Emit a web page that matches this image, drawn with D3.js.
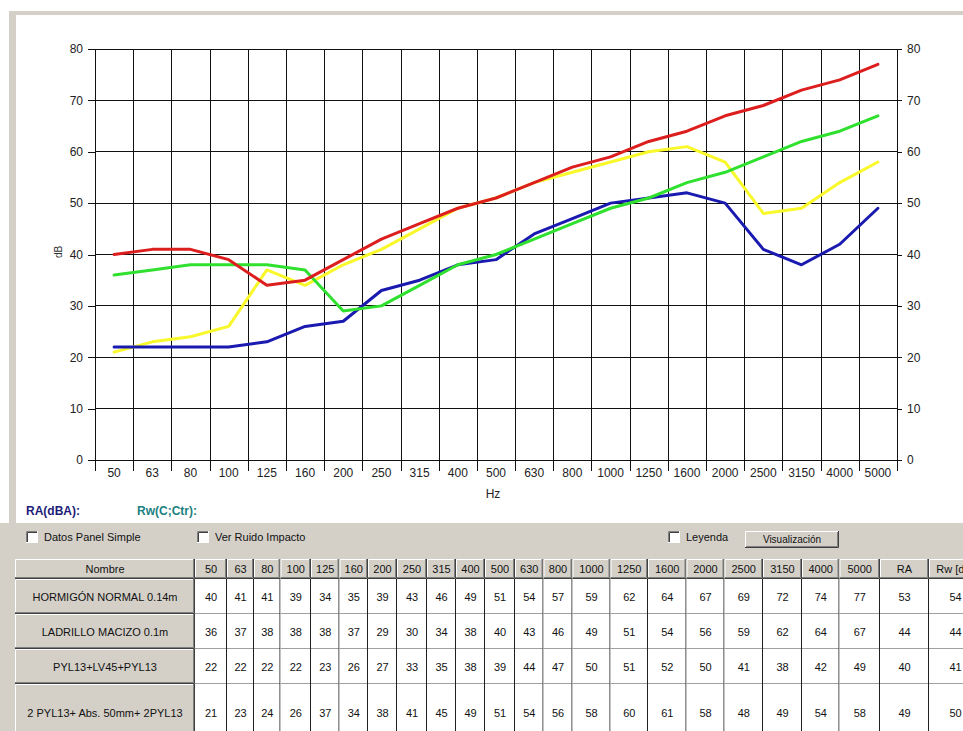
<!DOCTYPE html>
<html>
<head>
<meta charset="utf-8">
<script src="https://cdn.jsdelivr.net/npm/d3@7"></script>
<style>
  html, body { margin: 0; padding: 0; background: #ffffff; overflow: hidden; }
  svg { display: block; font-family: "Liberation Sans", Arial, sans-serif; }
</style>
</head>
<body>
<svg id="chart" width="963" height="731"></svg>
<script>
// Third-octave bands (Hz)
const freqs = ["50","63","80","100","125","160","200","250","315","400","500",
               "630","800","1000","1250","1600","2000","2500","3150","4000","5000"];

// Sound reduction index per band (dB)
const hormigon = [40,41,41,39,34,35,39,43,46,49,51,54,57,59,62,64,67,69,72,74,77];
const ladrillo = [36,37,38,38,38,37,29,30,34,38,40,43,46,49,51,54,56,59,62,64,67];
const pyl      = [22,22,22,22,23,26,27,33,35,38,39,44,47,50,51,52,50,41,38,42,49];
const dosPyl   = [21,23,24,26,37,34,38,41,45,49,51,54,56,58,60,61,58,48,49,54,58];

const names = ["HORMIGÓN NORMAL 0.14m", "LADRILLO MACIZO 0.1m",
               "PYL13+LV45+PYL13", "2 PYL13+ Abs. 50mm+ 2PYL13"];
const raValues = [53, 44, 40, 49];
const rwValues = [54, 44, 41, 50];
const seriesValues = [hormigon, ladrillo, pyl, dosPyl];
const seriesColors = ["#dc1e1e", "#2fe02f", "#1a1ab0", "#f8f82a"];

const yTicks = [0,10,20,30,40,50,60,70,80];

const svg = d3.select("#chart");
const GRAY = "#d4d0c8";
const FONT = "'Liberation Sans', Arial, sans-serif";

// ---- window frame ----
svg.append("rect").attr("x", 9).attr("y", 11).attr("width", 954).attr("height", 4).attr("fill", GRAY);
svg.append("rect").attr("x", 9).attr("y", 11).attr("width", 7).attr("height", 720).attr("fill", GRAY);
svg.append("rect").attr("x", 0).attr("y", 523).attr("width", 963).attr("height", 208).attr("fill", GRAY);

// ---- chart ----
const x = d3.scaleBand().domain(freqs).range([95, 897]).padding(0);
const y = d3.scaleLinear().domain([0, 80]).range([460, 49]);
const xc = f => x(f) + x.bandwidth() / 2;

const g = svg.append("g");

// horizontal grid
g.selectAll("line.hgrid").data(yTicks).join("line")
  .attr("x1", x.range()[0]).attr("x2", x.range()[1])
  .attr("y1", d => y(d)).attr("y2", d => y(d))
  .attr("stroke", "#111").attr("stroke-width", 1).attr("shape-rendering", "crispEdges");

// vertical grid at band boundaries, extending below the axis as ticks
const bounds = d3.range(freqs.length + 1).map(i => x.range()[0] + i * x.step());
g.selectAll("line.vgrid").data(bounds).join("line")
  .attr("x1", d => Math.round(d) + 0.5).attr("x2", d => Math.round(d) + 0.5)
  .attr("y1", y(80)).attr("y2", y(0) + 11)
  .attr("stroke", "#111").attr("stroke-width", 1).attr("shape-rendering", "crispEdges");

// left axis
const left = svg.append("g").attr("transform", `translate(${x.range()[0]},0)`)
  .call(d3.axisLeft(y).tickValues(yTicks).tickSize(7).tickPadding(5));
// right axis
const right = svg.append("g").attr("transform", `translate(${x.range()[1]},0)`)
  .call(d3.axisRight(y).tickValues(yTicks).tickSize(5).tickPadding(5));
[left, right].forEach(a => {
  a.select(".domain").remove();
  a.selectAll(".tick line").attr("stroke", "#111").attr("shape-rendering", "crispEdges");
  a.selectAll(".tick text").attr("fill", "#222").style("font-size", "12px").style("font-family", FONT);
});

// bottom axis labels, centred in each band
const bottom = svg.append("g").attr("transform", `translate(0,${y(0)})`)
  .call(d3.axisBottom(x).tickSize(0).tickPadding(8));
bottom.select(".domain").remove();
bottom.selectAll(".tick text").attr("fill", "#222").style("font-size", "12px").style("font-family", FONT);

// axis titles
svg.append("text").attr("x", 493).attr("y", 498).attr("text-anchor", "middle")
  .style("font-size", "12px").attr("fill", "#222").text("Hz");
svg.append("text").attr("transform", "translate(62,252) rotate(-90)").attr("text-anchor", "middle")
  .style("font-size", "10px").attr("fill", "#333").text("dB");

// series lines
const line = d3.line().x((d, i) => xc(freqs[i])).y(d => y(d));
const order = [3, 2, 1, 0]; // yellow, blue, green, red on top
g.selectAll("path.series").data(order).join("path")
  .attr("d", k => line(seriesValues[k]))
  .attr("fill", "none")
  .attr("stroke", k => seriesColors[k])
  .attr("stroke-width", 3)
  .attr("stroke-linejoin", "round")
  .attr("stroke-linecap", "round");

// ---- result labels ----
svg.append("text").attr("x", 26).attr("y", 515).style("font-size", "12px").style("font-weight", "bold")
  .attr("fill", "#1c1c78").text("RA(dBA):");
svg.append("text").attr("x", 137).attr("y", 515).style("font-size", "12px").style("font-weight", "bold")
  .attr("fill", "#1a8080").text("Rw(C;Ctr):");

// ---- controls ----
function checkbox(cx, cy, label) {
  const c = svg.append("g").attr("transform", `translate(${cx},${cy})`);
  c.append("rect").attr("x", 0).attr("y", 0).attr("width", 12).attr("height", 12).attr("fill", "#fff");
  c.append("path").attr("d", "M0.5,12 V0.5 H12").attr("fill", "none").attr("stroke", "#808080");
  c.append("path").attr("d", "M1.5,11 V1.5 H11").attr("fill", "none").attr("stroke", "#404040");
  c.append("path").attr("d", "M0,11.5 H11.5 V0").attr("fill", "none").attr("stroke", "#ffffff");
  svg.append("text").attr("x", cx + 18).attr("y", cy + 10).style("font-size", "11px")
    .attr("fill", "#111").text(label);
}
checkbox(26, 531, "Datos Panel Simple");
checkbox(197, 531, "Ver Ruido Impacto");
checkbox(668, 531, "Leyenda");

const btn = svg.append("g").attr("transform", "translate(745,531)");
btn.append("rect").attr("width", 94).attr("height", 17).attr("fill", GRAY);
btn.append("path").attr("d", "M0.5,17 V0.5 H94").attr("fill", "none").attr("stroke", "#ffffff");
btn.append("path").attr("d", "M0,16.5 H93.5 V0").attr("fill", "none").attr("stroke", "#404040");
btn.append("path").attr("d", "M1,15.5 H92.5 V1").attr("fill", "none").attr("stroke", "#808080");
btn.append("text").attr("x", 47).attr("y", 12).attr("text-anchor", "middle")
  .style("font-size", "10px").attr("fill", "#111").text("Visualización");

// ---- data table ----
const colHeads = ["Nombre"].concat(freqs, ["RA", "Rw [dB]"]);
const colWidths = [180, 32, 27, 26.5, 30.5, 28.5, 28.5, 29, 30, 29, 29, 30, 28.5, 29,
                   38, 37.5, 38.5, 38, 38.5, 39, 37.5, 40.5, 49, 53];
const colX = [15];
colWidths.forEach(w => colX.push(colX[colX.length - 1] + w));
const rowY = [559, 579, 614, 649, 684, 742];

const tbl = svg.append("g");

function cell(x0, x1, y0, y1, txt, header) {
  const c = tbl.append("g");
  c.append("rect").attr("x", x0).attr("y", y0).attr("width", x1 - x0).attr("height", y1 - y0)
    .attr("fill", header ? GRAY : "#ffffff");
  if (header) {
    c.append("path").attr("d", `M${x0 + 0.5},${y1} V${y0 + 0.5} H${x1}`)
      .attr("fill", "none").attr("stroke", "#ffffff");
    c.append("path").attr("d", `M${x0},${y1 - 1.5} H${x1 - 1.5} V${y0}`)
      .attr("fill", "none").attr("stroke", "#808080");
    c.append("path").attr("d", `M${x0},${y1 - 0.5} H${x1 - 0.5} V${y0}`)
      .attr("fill", "none").attr("stroke", "#404040");
  } else {
    c.append("path").attr("d", `M${x0},${y1 - 0.5} H${x1 - 0.5}`)
      .attr("fill", "none").attr("stroke", "#a0a0a0");
    c.append("path").attr("d", `M${x1 - 0.5},${y0} V${y1}`)
      .attr("fill", "none").attr("stroke", "#202020");
  }
  c.append("text").attr("x", (x0 + x1) / 2).attr("y", (y0 + y1) / 2 + 4)
    .attr("text-anchor", "middle").style("font-size", "11px").attr("fill", "#111").text(txt);
}

// header row
colHeads.forEach((h, j) => cell(colX[j], colX[j + 1], rowY[0], rowY[1], h, true));
// body rows
names.forEach((n, i) => {
  const y0 = rowY[i + 1], y1 = rowY[i + 2];
  cell(colX[0], colX[1], y0, y1, n, true);
  seriesValues[i].forEach((v, j) => cell(colX[j + 1], colX[j + 2], y0, y1, v, false));
  cell(colX[freqs.length + 1], colX[freqs.length + 2], y0, y1, raValues[i], false);
  cell(colX[freqs.length + 2], colX[freqs.length + 3], y0, y1, rwValues[i], false);
});
</script>
</body>
</html>
